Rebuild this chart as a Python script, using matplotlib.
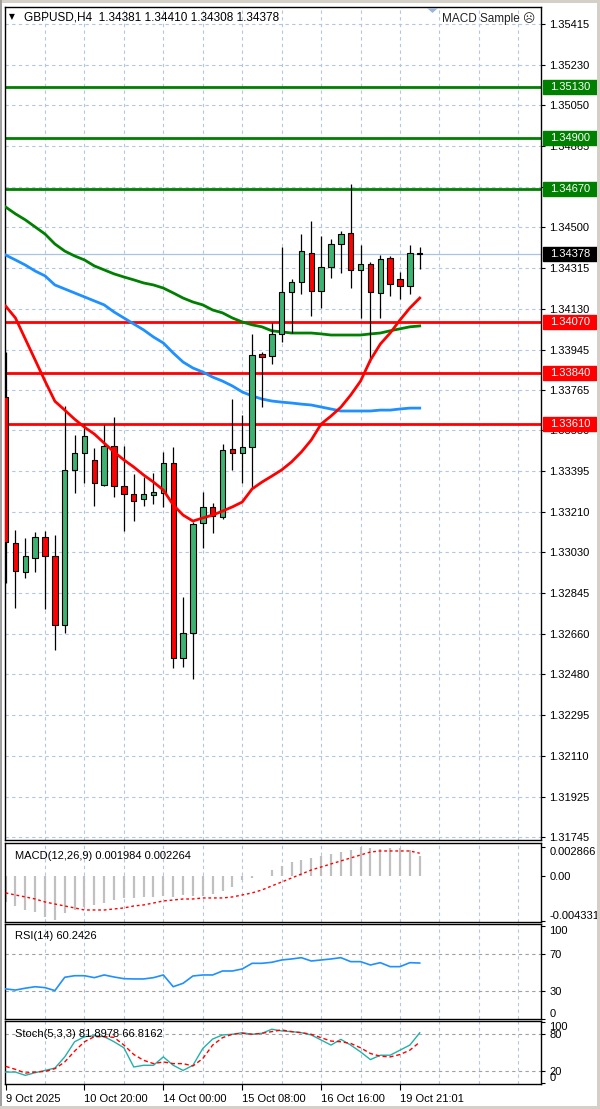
import matplotlib
matplotlib.use("Agg")
import matplotlib.pyplot as plt
from matplotlib.patches import Polygon, Rectangle

# ---- data ----
opens = [1.33731, 1.33073, 1.32942, 1.33005, 1.33100, 1.33014, 1.32702, 1.33402, 1.33479, 1.33447,
         1.33334, 1.33510, 1.33329, 1.33293, 1.33271, 1.33289, 1.33298, 1.33433, 1.32553, 1.32666,
         1.33162, 1.33235, 1.33189, 1.33496, 1.33479, 1.33506, 1.33925, 1.33916, 1.34015, 1.34205,
         1.34251, 1.34381, 1.34210, 1.34318, 1.34422, 1.34472, 1.34305, 1.34332, 1.34200, 1.34359,
         1.34264, 1.34232, 1.34381]
highs = [1.33934, 1.33131, 1.33095, 1.33122, 1.33127, 1.33109, 1.33690, 1.33560, 1.33609, 1.33501,
         1.33605, 1.33641, 1.33510, 1.33384, 1.33371, 1.33388, 1.33483, 1.33506, 1.32829, 1.33167,
         1.33302, 1.33253, 1.33519, 1.33722, 1.33650, 1.34015, 1.33934, 1.34064, 1.34409, 1.34264,
         1.34467, 1.34526, 1.34458, 1.34445, 1.34481, 1.34693, 1.34418, 1.34341, 1.34372, 1.34368,
         1.34296, 1.34418, 1.34410]
lows = [1.32892, 1.32779, 1.32915, 1.32942, 1.32775, 1.32589, 1.32666, 1.33298, 1.33343, 1.33239,
        1.33329, 1.33280, 1.33127, 1.33171, 1.33239, 1.33248, 1.33234, 1.32508, 1.32512, 1.32458,
        1.33050, 1.33118, 1.33180, 1.33402, 1.33343, 1.33320, 1.33685, 1.33880, 1.33979, 1.34020,
        1.34196, 1.34097, 1.34133, 1.34269, 1.34291, 1.34223, 1.34088, 1.33889, 1.34088, 1.34187,
        1.34173, 1.34196, 1.34308]
closes = [1.33077, 1.32946, 1.33014, 1.33100, 1.33014, 1.32702, 1.33402, 1.33479, 1.33555, 1.33343,
          1.33510, 1.33329, 1.33293, 1.33262, 1.33293, 1.33302, 1.33433, 1.32553, 1.32666, 1.33158,
          1.33235, 1.33194, 1.33492, 1.33479, 1.33506, 1.33920, 1.33911, 1.34015, 1.34205, 1.34251,
          1.34390, 1.34210, 1.34318, 1.34422, 1.34467, 1.34305, 1.34332, 1.34205, 1.34354, 1.34241,
          1.34232, 1.34381, 1.34378]

ma_fast = [1.34142, 1.34088, 1.33993, 1.33898, 1.33803, 1.33712, 1.33672, 1.33631, 1.33595, 1.33564,
           1.33523, 1.33483, 1.33447, 1.33415, 1.33379, 1.33347, 1.33311, 1.33244, 1.33198, 1.33171,
           1.33185, 1.33198, 1.33216, 1.33235, 1.33257, 1.33316, 1.33347, 1.33374, 1.33402, 1.33438,
           1.33483, 1.33537, 1.33609, 1.33645, 1.33685, 1.33740, 1.33803, 1.33898, 1.33970, 1.34020,
           1.34079, 1.34133, 1.34178]
ma_mid = [1.34589, 1.34558, 1.34531, 1.34499, 1.34467, 1.34422, 1.34390, 1.34368, 1.34350, 1.34323,
          1.34305, 1.34287, 1.34273, 1.34260, 1.34246, 1.34237, 1.34223, 1.34201, 1.34178, 1.34160,
          1.34147, 1.34124, 1.34111, 1.34088, 1.34070, 1.34057, 1.34048, 1.34030, 1.34025, 1.34020,
          1.34020, 1.34020, 1.34016, 1.34011, 1.34011, 1.34011, 1.34011, 1.34016, 1.34020, 1.34030,
          1.34039, 1.34048, 1.34052]
ma_slow = [1.34372, 1.34350, 1.34327, 1.34300, 1.34278, 1.34237, 1.34219, 1.34201, 1.34183, 1.34165,
           1.34147, 1.34115, 1.34088, 1.34061, 1.34034, 1.34002, 1.33975, 1.33930, 1.33889, 1.33862,
           1.33844, 1.33821, 1.33803, 1.33781, 1.33754, 1.33736, 1.33722, 1.33713, 1.33708, 1.33704,
           1.33699, 1.33695, 1.33686, 1.33677, 1.33668, 1.33668, 1.33668, 1.33668, 1.33672, 1.33672,
           1.33677, 1.33681, 1.33681]

green_levels = [1.35130, 1.34900, 1.34670]
red_levels = [1.34070, 1.33840, 1.33610]
last_price = 1.34378

price_ticks = [1.35415, 1.35230, 1.35050, 1.34865, 1.34680, 1.34500, 1.34315, 1.34130, 1.33945,
               1.33765, 1.33580, 1.33395, 1.33210, 1.33030, 1.32845, 1.32660, 1.32480, 1.32295,
               1.32110, 1.31925, 1.31745]
hidden_ticks = [1.34680]  # sits under the 1.34670 level box

macd_hist = [-0.00248, -0.00287, -0.00326, -0.00345, -0.00395, -0.00425, -0.00355, -0.00326, -0.00297, -0.00277,
             -0.00258, -0.00229, -0.00209, -0.00209, -0.00199, -0.00199, -0.00190, -0.00199, -0.00180, -0.00190,
             -0.00190, -0.00170, -0.00141, -0.00102, -0.00034, -0.00015, 0.00005, 0.00063, 0.00102, 0.00141,
             0.00160, 0.00180, 0.00199, 0.00219, 0.00238, 0.00262, 0.00287, 0.00280, 0.00270, 0.00280,
             0.00276, 0.00262, 0.00198]
macd_signal = [-0.00160, -0.00180, -0.00199, -0.00219, -0.00248, -0.00268, -0.00287, -0.00306, -0.00326, -0.00326,
               -0.00326, -0.00316, -0.00306, -0.00287, -0.00277, -0.00258, -0.00238, -0.00229, -0.00219, -0.00219,
               -0.00209, -0.00209, -0.00209, -0.00199, -0.00180, -0.00160, -0.00131, -0.00092, -0.00054, -0.00015,
               0.00024, 0.00063, 0.00092, 0.00122, 0.00151, 0.00180, 0.00209, 0.00238, 0.00248, 0.00248,
               0.00248, 0.00248, 0.00226]
rsi = [32.2, 31.0, 33.0, 34.6, 33.6, 30.4, 44.8, 46.5, 46.5, 44.4,
       47.3, 45.1, 43.3, 43.0, 43.0, 44.4, 47.3, 34.6, 38.3, 46.2,
       47.3, 47.3, 51.6, 51.6, 53.8, 59.9, 59.9, 61.0, 63.5, 64.6,
       66.0, 62.4, 63.5, 64.6, 66.0, 61.7, 61.7, 58.1, 60.6, 56.3,
       56.3, 60.6, 60.2]
stoch_k = [18.3, 18.3, 13.0, 17.3, 21.0, 24.8, 42.9, 67.4, 75.6, 77.2,
           75.6, 67.4, 57.6, 26.5, 29.3, 29.3, 42.9, 29.3, 21.0, 29.3,
           56.5, 71.8, 78.4, 79.5, 82.1, 79.5, 81.1, 87.7, 84.9, 83.8,
           82.1, 78.4, 70.2, 62.0, 71.3, 62.0, 51.0, 38.5, 45.6, 45.6,
           53.8, 62.0, 81.9]
stoch_d = [27.6, 22.7, 16.7, 18.3, 19.4, 23.8, 34.7, 52.2, 67.4, 75.6,
           75.6, 74.5, 62.0, 46.7, 37.4, 32.0, 34.7, 32.0, 32.0, 28.2,
           40.2, 62.0, 74.0, 79.5, 81.1, 79.5, 81.1, 83.8, 86.5, 83.8,
           82.1, 79.5, 74.0, 68.5, 67.4, 64.7, 57.6, 48.4, 44.0, 42.9,
           46.7, 53.8, 66.8]

date_pos = [0, 8, 16, 24, 32, 40]
date_labels = ["9 Oct 2025", "10 Oct 20:00", "14 Oct 00:00", "15 Oct 08:00", "16 Oct 16:00", "19 Oct 21:01"]

# ---- style ----
W, H = 600, 1109
FONT = ["Liberation Sans", "DejaVu Sans"]
plt.rcParams["font.family"] = FONT
plt.rcParams["font.size"] = 8
GRID = "#b4c6e0"
UP = "#3cb371"
DOWN = "#ff0000"
XMIN, XMAX = -0.06, 54.3
PX_PER_PRICE = 22152.0


def rect(l, t, r, b):
    return [l / W, 1 - b / H, (r - l) / W, (b - t) / H]


def style_panel(ax):
    ax.set_xlim(XMIN, XMAX)
    ax.set_facecolor("white")
    for s in ax.spines.values():
        s.set_color("black")
        s.set_linewidth(1.0)
    ax.yaxis.tick_right()
    ax.tick_params(axis="y", direction="out", length=3, width=0.8, pad=3, labelsize=8)
    ax.tick_params(axis="x", bottom=False, labelbottom=False)
    for gx in range(4, 54, 4):
        ax.axvline(gx, color=GRID, lw=0.8, ls=(0, (3, 3)), zorder=0)


def level_box(ax, value, color):
    # box from x=543 to x=597 px, 14 px tall, centred on the level
    x0 = (543 - 5) / 536
    bw = 54 / 536
    bh = 14 / PX_PER_PRICE
    ax.add_patch(Rectangle((x0, value - bh / 2), bw, bh, transform=ax.get_yaxis_transform(),
                           fc=color, ec=color, clip_on=False, zorder=9))
    ax.text(x0 + bw / 2, value, f"{value:.5f}", transform=ax.get_yaxis_transform(), va="center",
            ha="center", color="white", fontsize=8, zorder=10, clip_on=False)


fig = plt.figure(figsize=(W / 100, H / 100), dpi=100)
fig.patch.set_facecolor("white")

# ---- main price panel ----
ax = fig.add_axes(rect(5, 7, 541, 840))
style_panel(ax)
ax.set_ylim(1.31731, 1.35492)
ax.set_yticks(price_ticks)
ax.set_yticklabels(["" if p in hidden_ticks else f"{p:.5f}" for p in price_ticks])
for p in price_ticks:
    ax.axhline(p, color=GRID, lw=0.8, ls=(0, (3, 3)), zorder=0)

ax.axhline(last_price, color="#a9c3e3", lw=0.9, zorder=1)
for lv in green_levels:
    ax.axhline(lv, color="#008000", lw=2, zorder=2)
for lv in red_levels:
    ax.axhline(lv, color="#ff0000", lw=2, zorder=2)

xs = list(range(len(opens)))
ax.plot(xs, ma_slow, color="#1e90ff", lw=2, zorder=3)
ax.plot(xs, ma_mid, color="#008000", lw=2, zorder=3)

ax.vlines(xs, lows, highs, color="black", lw=0.9, zorder=4)
bottoms = [min(o, c) for o, c in zip(opens, closes)]
heights = [max(abs(c - o), 0.000006) for o, c in zip(opens, closes)]
colors = [UP if c > o else DOWN for o, c in zip(opens, closes)]
colors[-1] = "black"
ax.bar(xs, heights, bottom=bottoms, width=0.55, color=colors, edgecolor="black", linewidth=0.8, zorder=5)
ax.plot(xs, ma_fast, color="#ff0000", lw=2, zorder=6)

for lv in green_levels:
    level_box(ax, lv, "#008000")
for lv in red_levels:
    level_box(ax, lv, "#ff0000")
level_box(ax, last_price, "black")

ax.text(24 / W, 1 - 17 / H, "GBPUSD,H4  1.34381 1.34410 1.34308 1.34378", transform=fig.transFigure,
        fontsize=8.5, va="center", ha="left", color="black")
ax.text(9 / W, 1 - 17 / H, "\u25bc", transform=fig.transFigure, fontsize=5.5, va="center", ha="left",
        color="black", family="DejaVu Sans")
ax.text(535 / W, 1 - 19 / H, "MACD Sample \u2639", transform=fig.transFigure, fontsize=8.5,
        va="center", ha="right", color="#222222", family=FONT)
fig.patches.append(Polygon([[427 / W, 1 - 8 / H], [438 / W, 1 - 8 / H], [432.5 / W, 1 - 13 / H]],
                           closed=True, transform=fig.transFigure, fc="#9db4d4", ec="none"))

# ---- MACD panel ----
axm = fig.add_axes(rect(5, 843, 541, 922))
style_panel(axm)
axm.set_ylim(-0.004428, 0.003255)
axm.vlines(xs, 0, macd_hist, color="#c0c0c0", lw=1.6, zorder=2)
axm.plot(xs, macd_signal, color="#ff0000", lw=1, ls=(0, (2, 2)), zorder=3)
axm.set_yticks([0.002866, 0.0, -0.004331])
axm.set_yticklabels(["0.002866", "0.00", "-0.004331"])
lbl = axm.get_yticklabels()
lbl[0].set_va("top")
lbl[2].set_va("bottom")
axm.text(10 / 536, 0.84, "MACD(12,26,9) 0.001984 0.002264", transform=axm.transAxes, fontsize=8,
         va="center", ha="left")

# ---- RSI panel ----
axr = fig.add_axes(rect(5, 924, 541, 1019))
style_panel(axr)
axr.set_ylim(-0.3, 102.4)
for lv in (70, 30):
    axr.axhline(lv, color="#a0a0a0", lw=0.8, ls=(0, (3, 3)), zorder=1)
axr.plot(xs, rsi, color="#1e90ff", lw=1.2, zorder=3)
axr.set_yticks([100, 70, 30, 0])
axr.set_yticklabels(["100", "70", "30", "0"])
lbl = axr.get_yticklabels()
lbl[0].set_va("top")
lbl[3].set_va("bottom")
axr.text(10 / 536, 0.87, "RSI(14) 60.2426", transform=axr.transAxes, fontsize=8, va="center", ha="left")

# ---- Stochastic panel ----
axs = fig.add_axes(rect(5, 1021, 541, 1084))
style_panel(axs)
axs.set_ylim(-1, 101)
for lv in (80, 20):
    axs.axhline(lv, color="#a0a0a0", lw=0.8, ls=(0, (3, 3)), zorder=1)
axs.plot(xs, stoch_k, color="#20b2aa", lw=1, zorder=3)
axs.plot(xs, stoch_d, color="#ff0000", lw=1, ls=(0, (3, 2)), zorder=3)
axs.set_yticks([100, 80, 20, 0])
axs.set_yticklabels(["100", "80", "20", "0"])
lbl = axs.get_yticklabels()
lbl[0].set_va("top")
lbl[3].set_va("bottom")
axs.text(10 / 536, 0.8, "Stoch(5,3,3) 81.8978 66.8162", transform=axs.transAxes, fontsize=8,
         va="center", ha="left", zorder=5)
axs.set_xticks(date_pos)
axs.set_xticklabels(date_labels)
axs.tick_params(axis="x", bottom=True, labelbottom=True, direction="out", length=4, width=0.8,
                pad=3, labelsize=8)
for t in axs.get_xticklabels():
    t.set_ha("left")

# window frame
fig.patches.append(Rectangle((0, 1 - 3 / H), 1, 3 / H, transform=fig.transFigure, fc="#d4d0c8", ec="none"))
fig.patches.append(Rectangle((0, 0), 2 / W, 1, transform=fig.transFigure, fc="#a0a0a0", ec="none"))
fig.patches.append(Rectangle((1 - 3 / W, 0), 3 / W, 1, transform=fig.transFigure, fc="#d4d0c8", ec="none"))
fig.patches.append(Rectangle((0, 0), 1, 3 / H, transform=fig.transFigure, fc="#d4d0c8", ec="none"))

fig.savefig("out.png", dpi=100)
